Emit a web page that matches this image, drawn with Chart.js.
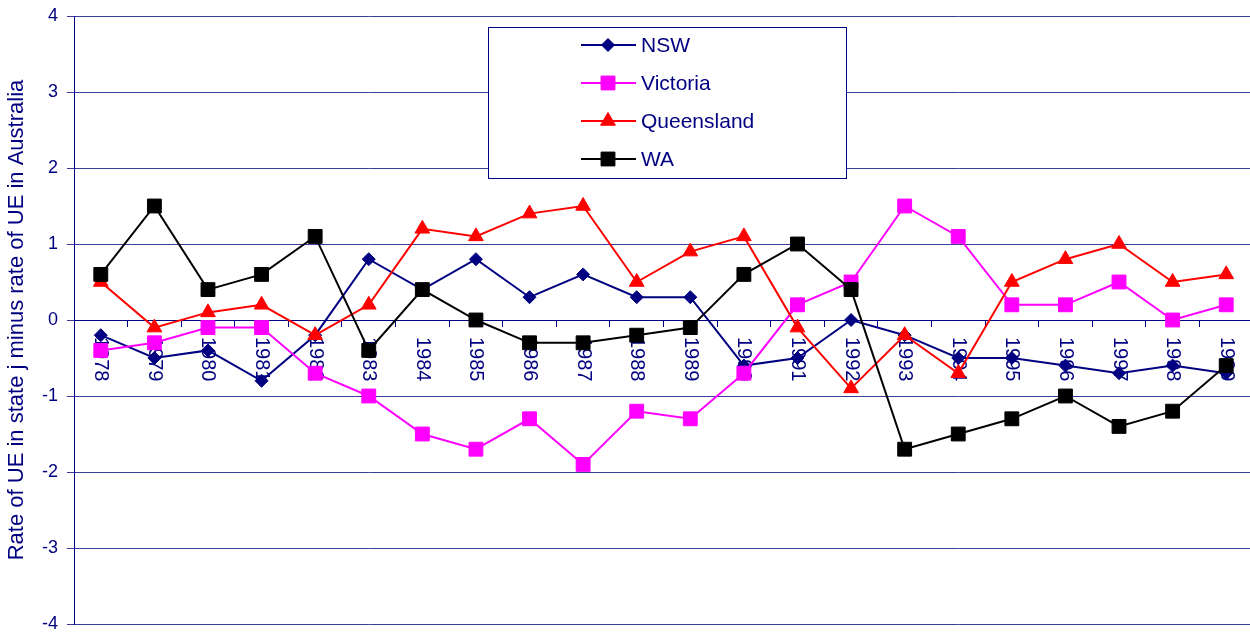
<!DOCTYPE html>
<html>
<head>
<meta charset="utf-8">
<script src="https://cdn.jsdelivr.net/npm/chart.js@4/dist/chart.umd.min.js"></script>
<style>
  html, body { margin: 0; padding: 0; background: #ffffff; overflow: hidden; }
  #wrap { position: relative; width: 1253px; height: 632px; }
</style>
</head>
<body>
<div id="wrap"><canvas id="c"></canvas></div>
<script>
// ---- data ----
const years = ['1978','1979','1980','1981','1982','1983','1984','1985','1986','1987','1988',
               '1989','1990','1991','1992','1993','1994','1995','1996','1997','1998','1999'];
const nsw        = [-0.2,-0.5,-0.4,-0.8,-0.2, 0.8, 0.4, 0.8, 0.3, 0.6, 0.3, 0.3,-0.6,-0.5, 0.0,-0.2,-0.5,-0.5,-0.6,-0.7,-0.6,-0.7];
const victoria   = [-0.4,-0.3,-0.1,-0.1,-0.7,-1.0,-1.5,-1.7,-1.3,-1.9,-1.2,-1.3,-0.7, 0.2, 0.5, 1.5, 1.1, 0.2, 0.2, 0.5, 0.0, 0.2];
const queensland = [ 0.5,-0.1, 0.1, 0.2,-0.2, 0.2, 1.2, 1.1, 1.4, 1.5, 0.5, 0.9, 1.1,-0.1,-0.9,-0.2,-0.7, 0.5, 0.8, 1.0, 0.5, 0.6];
const wa         = [ 0.6, 1.5, 0.4, 0.6, 1.1,-0.4, 0.4, 0.0,-0.3,-0.3,-0.2,-0.1, 0.6, 1.0, 0.4,-1.7,-1.5,-1.3,-1.0,-1.4,-1.2,-0.6];
const yTicks = [-4,-3,-2,-1,0,1,2,3,4];
const seriesNames = ['NSW','Victoria','Queensland','WA'];
const yTitle = 'Rate of UE in state j minus rate of UE in Australia';

const NAVY = '#000080';
const GRID = '#3c3c9c';
const FONT = '"Liberation Sans", Arial, sans-serif';

function ds(label, data, color, style, radius, order) {
  return {
    label, data,
    borderColor: color, backgroundColor: color,
    pointBackgroundColor: color, pointBorderColor: color,
    pointStyle: style, pointRadius: radius, pointHoverRadius: radius,
    pointBorderWidth: 1, borderWidth: 2, tension: 0, fill: false, order,
    clip: false
  };
}

const datasets = [
  ds(seriesNames[0], nsw, NAVY, 'rectRot', 6.5, 3),
  ds(seriesNames[1], victoria, '#ff00ff', 'rect', 9.8, 2),
  ds(seriesNames[2], queensland, '#ff0000', 'triangle', 8.5, 1),
  ds(seriesNames[3], wa, '#000000', 'rect', 9.8, 0)
];

function drawMarker(ctx, style, r, x, y, color) {
  ctx.save();
  ctx.fillStyle = color; ctx.strokeStyle = color; ctx.lineWidth = 1;
  ctx.beginPath();
  if (style === 'rectRot') {
    ctx.moveTo(x - r, y); ctx.lineTo(x, y - r); ctx.lineTo(x + r, y); ctx.lineTo(x, y + r);
  } else if (style === 'triangle') {
    const hw = r * Math.sin(Math.PI * 2 / 3);
    ctx.moveTo(x, y - r); ctx.lineTo(x + hw, y + r / 2); ctx.lineTo(x - hw, y + r / 2);
  } else {
    const s = Math.SQRT1_2 * r;
    ctx.rect(x - s, y - s, 2 * s, 2 * s);
  }
  ctx.closePath(); ctx.fill(); ctx.stroke();
  ctx.restore();
}

const overlay = {
  id: 'overlay',
  beforeDatasetsDraw(chart) {
    const ctx = chart.ctx;
    const xs = chart.scales.x, ys = chart.scales.y;

    // y tick labels, right-aligned left of the tick marks
    ctx.save();
    ctx.fillStyle = NAVY;
    ctx.font = '18px ' + FONT;
    ctx.textAlign = 'right';
    ctx.textBaseline = 'middle';
    yTicks.forEach(v => {
      ctx.fillText(String(v), ys.left + ys.width - 16, ys.getPixelForValue(v));
    });
    ctx.restore();

    // category labels rotated clockwise, hanging below the zero line
    const y0 = ys.getPixelForValue(0);
    ctx.save();
    ctx.fillStyle = NAVY;
    ctx.font = '20px ' + FONT;
    ctx.textAlign = 'left';
    ctx.textBaseline = 'middle';
    years.forEach((lab, i) => {
      const x = xs.getPixelForValue(i);
      ctx.save();
      ctx.translate(x, y0 + 17);
      ctx.rotate(Math.PI / 2);
      ctx.fillText(lab, 0, 0);
      ctx.restore();
    });
    ctx.restore();

    // legend box
    const bx = 488.5, by = 27.5, bw = 358, bh = 151;
    ctx.save();
    ctx.fillStyle = '#ffffff';
    ctx.fillRect(bx, by, bw, bh);
    ctx.strokeStyle = NAVY; ctx.lineWidth = 1;
    ctx.strokeRect(bx, by, bw, bh);
    ctx.font = '21px ' + FONT;
    ctx.textAlign = 'left';
    ctx.textBaseline = 'middle';
    chart.data.datasets.forEach((d, i) => {
      const yy = 45 + i * 38;
      ctx.strokeStyle = d.borderColor; ctx.lineWidth = 2;
      ctx.beginPath(); ctx.moveTo(581, yy); ctx.lineTo(636, yy); ctx.stroke();
      drawMarker(ctx, d.pointStyle, d.pointRadius, 608, yy, d.borderColor);
      ctx.fillStyle = NAVY;
      ctx.fillText(d.label, 641, yy + 1);
    });
    ctx.restore();
  }
};

new Chart(document.getElementById('c'), {
  type: 'line',
  data: { labels: years, datasets },
  options: {
    responsive: true,
    maintainAspectRatio: false,
    animation: false,
    events: [],
    layout: { autoPadding: false, padding: { left: 0, top: 16, right: 0, bottom: 8 } },
    plugins: { legend: { display: false }, tooltip: { enabled: false } },
    scales: {
      x: {
        type: 'category',
        position: { y: 0 },
        offset: true,
        grid: { offset: true, drawOnChartArea: false, drawTicks: true, tickLength: 6, color: NAVY, lineWidth: 1 },
        border: { display: true, color: NAVY, width: 1 },
        ticks: { display: false }
      },
      y: {
        min: -4, max: 4,
        afterBuildTicks(scale) { scale.ticks = yTicks.map(v => ({ value: v })); },
        afterFit(scale) { scale.width = 74; },
        grid: { color: GRID, lineWidth: 1, drawTicks: true, tickLength: 7 },
        border: { display: true, color: NAVY, width: 1 },
        ticks: { display: false },
        title: {
          display: true, text: yTitle, color: NAVY,
          font: { family: FONT, size: 22, lineHeight: 1.2 },
          padding: { top: 4, bottom: 0 }
        }
      }
    }
  },
  plugins: [overlay]
});
</script>
</body>
</html>
